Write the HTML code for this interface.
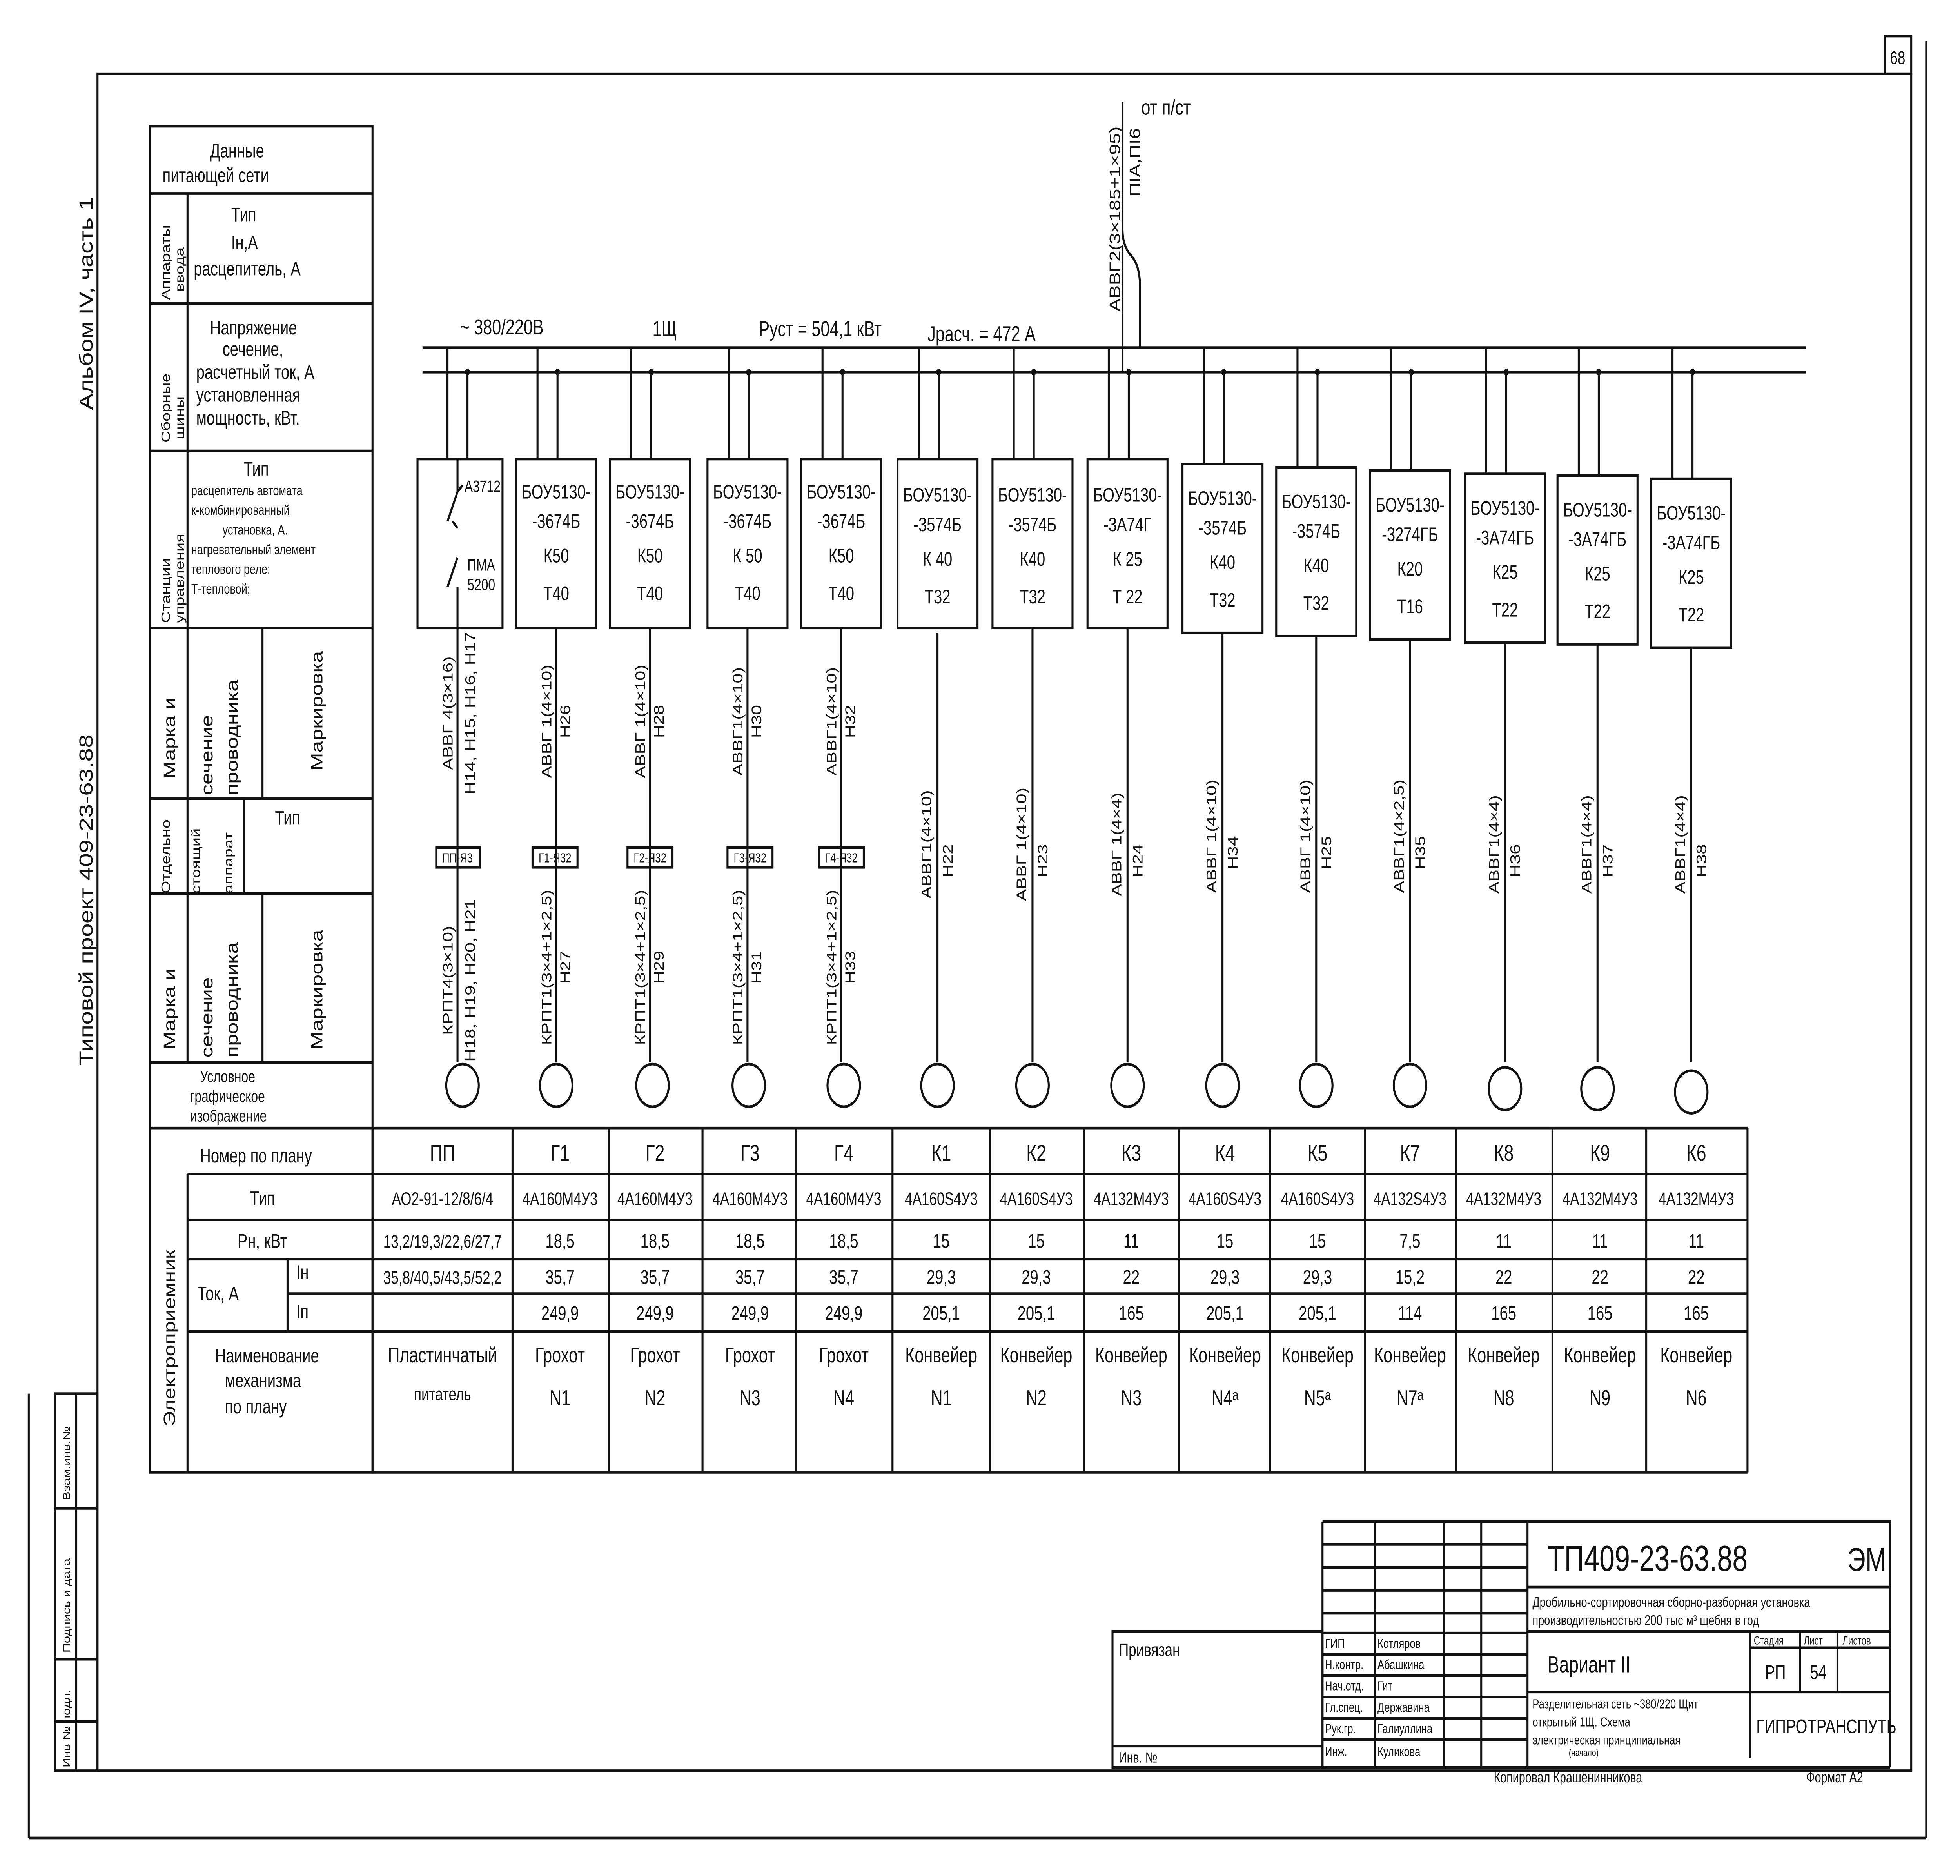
<!DOCTYPE html>
<html><head><meta charset="utf-8"><style>
html,body{margin:0;padding:0;background:#fff;overflow:hidden;width:100vw;height:100vh}
svg{display:block;width:100vw;height:100vh}
text{font-family:"Liberation Sans","DejaVu Sans",sans-serif;fill:#111}
</style></head><body>
<svg viewBox="0 0 1568 1144.2" preserveAspectRatio="none" xmlns="http://www.w3.org/2000/svg">
<rect width="1568" height="1144.2" fill="#fff"/>
<g stroke="#111" stroke-width="1.6" fill="none">
<rect x="78" y="45" width="1451" height="1035"/>
<rect x="1508" y="22" width="21" height="23"/>
<line x1="1541" y1="25" x2="1541" y2="1121"/>
<line x1="23" y1="850" x2="23" y2="1121"/>
<line x1="23" y1="1121" x2="1541" y2="1121"/>
<rect x="44" y="850" width="34" height="230"/>
<line x1="61" y1="850" x2="61" y2="1080"/>
<line x1="44" y1="920" x2="78" y2="920"/>
<line x1="44" y1="1012" x2="78" y2="1012"/>
<line x1="44" y1="1050" x2="78" y2="1050"/>
<rect x="120" y="77" width="178" height="821"/>
<line x1="150" y1="118" x2="150" y2="648"/>
<line x1="150" y1="716" x2="150" y2="898"/>
<line x1="120" y1="118" x2="298" y2="118"/>
<line x1="120" y1="185" x2="298" y2="185"/>
<line x1="120" y1="275" x2="298" y2="275"/>
<line x1="120" y1="383" x2="298" y2="383"/>
<line x1="120" y1="487" x2="298" y2="487"/>
<line x1="120" y1="545" x2="298" y2="545"/>
<line x1="120" y1="648" x2="298" y2="648"/>
<line x1="210" y1="383" x2="210" y2="487"/>
<line x1="210" y1="545" x2="210" y2="648"/>
<line x1="195" y1="487" x2="195" y2="545"/>
<line x1="120" y1="688" x2="1398" y2="688"/>
<line x1="150" y1="716" x2="1398" y2="716"/>
<line x1="150" y1="744" x2="1398" y2="744"/>
<line x1="150" y1="768" x2="1398" y2="768"/>
<line x1="230" y1="789" x2="1398" y2="789"/>
<line x1="150" y1="812" x2="1398" y2="812"/>
<line x1="298" y1="898" x2="1398" y2="898"/>
<line x1="230" y1="768" x2="230" y2="812"/>
<path d="M298 688V898M410 688V898M487 688V898M562 688V898M637 688V898M714 688V898M792 688V898M867 688V898M943 688V898M1016 688V898M1092 688V898M1165 688V898M1242 688V898M1317 688V898M1398 688V898"/>
<line x1="338" y1="212" x2="1445" y2="212"/>
<line x1="338" y1="227" x2="1445" y2="227"/>
<path d="M898 62V140Q898 150 905 156Q912 162 912 175V212"/>
<path d="M898 150V227"/>
<path d="M358 212V280M374 227V280M430 212V280M446 227V280M505 212V280M521 227V280M583 212V280M599 227V280M658 212V280M674 227V280M735 212V280M751 227V280M811 212V280M827 227V280M887 212V280M903 227V280M963 212V283M979 227V283M1038 212V285M1054 227V285M1113 212V287M1129 227V287M1189 212V289M1205 227V289M1263 212V290M1279 227V290M1338 212V292M1354 227V292"/>
<rect x="334" y="280" width="68" height="103"/>
<rect x="413" y="280" width="64" height="103"/>
<rect x="488" y="280" width="64" height="103"/>
<rect x="566" y="280" width="64" height="103"/>
<rect x="641" y="280" width="64" height="103"/>
<rect x="718" y="280" width="64" height="103"/>
<rect x="794" y="280" width="64" height="103"/>
<rect x="870" y="280" width="64" height="103"/>
<rect x="946" y="283" width="64" height="103"/>
<rect x="1021" y="285" width="64" height="103"/>
<rect x="1096" y="287" width="64" height="103"/>
<rect x="1172" y="289" width="64" height="103"/>
<rect x="1246" y="290" width="64" height="103"/>
<rect x="1321" y="292" width="64" height="103"/>
<path d="M366 280V300M366 300L358 318M366 300L370 296M366 340L358 358M366 358V383M362 318l4 4"/>
<path d="M366 383V648M445 383V648M520 383V648M598 383V648M673 383V648M750 386V648M826 383V648M902 383V648M978 386V648M1053 388V648M1128 390V648M1204 392V648M1278 393V648M1353 395V648"/>
<rect x="349" y="517" width="35" height="12"/>
<rect x="426" y="517" width="36" height="12"/>
<rect x="502" y="517" width="36" height="12"/>
<rect x="582" y="517" width="36" height="12"/>
<rect x="655" y="517" width="36" height="12"/>
<circle cx="370" cy="662" r="13"/><circle cx="445" cy="662" r="13"/><circle cx="522" cy="662" r="13"/><circle cx="599" cy="662" r="13"/><circle cx="675" cy="662" r="13"/><circle cx="750" cy="662" r="13"/><circle cx="826" cy="662" r="13"/><circle cx="902" cy="662" r="13"/><circle cx="978" cy="662" r="13"/><circle cx="1053" cy="662" r="13"/><circle cx="1128" cy="662" r="13"/><circle cx="1204" cy="664" r="13"/><circle cx="1278" cy="664" r="13"/><circle cx="1353" cy="666" r="13"/>
<path d="M1058 928H1512V1078M1058 928V1078H1512M1222 928V1078M1222 968H1512M1222 995H1512M1222 1032H1512M1400 995V1072M1440 995V1032M1470 995V1032M1400 1005H1512"/>
<path d="M1058 942H1222M1058 956H1222M1058 970H1222M1058 984H1222M1058 996H1222M1058 1009H1222M1058 1022H1222M1058 1035H1222M1058 1048H1222M1058 1061H1222M1100 928V1078M1155 928V1078M1185 928V1078"/>
<rect x="890" y="995" width="168" height="83"/>
<line x1="890" y1="1065" x2="1058" y2="1065"/>
</g>
<g fill="#111">
<circle cx="374" cy="227" r="2"/><circle cx="446" cy="227" r="2"/><circle cx="521" cy="227" r="2"/><circle cx="599" cy="227" r="2"/><circle cx="674" cy="227" r="2"/><circle cx="751" cy="227" r="2"/><circle cx="827" cy="227" r="2"/><circle cx="903" cy="227" r="2"/><circle cx="979" cy="227" r="2"/><circle cx="1054" cy="227" r="2"/><circle cx="1129" cy="227" r="2"/><circle cx="1205" cy="227" r="2"/><circle cx="1279" cy="227" r="2"/><circle cx="1354" cy="227" r="2"/>
</g>

<text x="1512" y="39" font-size="11">68</text>
<text transform="translate(74,250) rotate(-90)" font-size="15">Альбом IV, часть 1</text>
<text transform="translate(74,650) rotate(-90)" font-size="15">Типовой  проект 409-23-63.88</text>
<g font-size="8">
<text transform="translate(56,915) rotate(-90)">Взам.инв.№</text>
<text transform="translate(56,1008) rotate(-90)">Подпись и дата</text>
<text transform="translate(56,1078) rotate(-90)">Инв № подл.</text>
</g>

<g font-size="12">
<text x="168" y="96">Данные</text>
<text x="130" y="111">питающей  сети</text>
<text x="185" y="135">Тип</text>
<text x="185" y="152">Iн,А</text>
<text x="155" y="168">расцепитель, А</text>
<text x="168" y="204">Напряжение</text>
<text x="178" y="217">сечение,</text>
<text x="157" y="231">расчетный ток, А</text>
<text x="157" y="245">установленная</text>
<text x="157" y="259">мощность, кВт.</text>
<text x="195" y="290">Тип</text>
<text x="220" y="503">Тип</text>
<text x="160" y="660" font-size="10">Условное</text>
<text x="152" y="672" font-size="10">графическое</text>
<text x="152" y="684" font-size="10">изображение</text>
<text x="160" y="709">Номер по плану</text>
<text x="200" y="735">Тип</text>
<text x="190" y="761">Рн, кВт</text>
<text x="158" y="793">Ток, А</text>
<text x="237" y="780">Iн</text>
<text x="237" y="804">Iп</text>
<text x="172" y="831">Наименование</text>
<text x="180" y="846">механизма</text>
<text x="180" y="862">по плану</text>
</g>
<g font-size="8.5">
<text x="153" y="302">расцепитель автомата</text>
<text x="153" y="314">к-комбинированный</text>
<text x="178" y="326">установка, А.</text>
<text x="153" y="338">нагревательный элемент</text>
<text x="153" y="350">теплового реле:</text>
<text x="153" y="362">Т-тепловой;</text>
</g>
<g font-size="10">
<text transform="translate(136,183) rotate(-90)">Аппараты</text>
<text transform="translate(147,178) rotate(-90)">ввода</text>
<text transform="translate(136,270) rotate(-90)">Сборные</text>
<text transform="translate(147,268) rotate(-90)">шины</text>
<text transform="translate(136,380) rotate(-90)">Станции</text>
<text transform="translate(147,380) rotate(-90)">управления</text>
<text transform="translate(140,475) rotate(-90)" font-size="13">Марка  и</text>
<text transform="translate(170,485) rotate(-90)" font-size="13">сечение</text>
<text transform="translate(190,485) rotate(-90)" font-size="13">проводника</text>
<text transform="translate(258,470) rotate(-90)" font-size="13">Маркировка</text>
<text transform="translate(136,545) rotate(-90)">Отдельно</text>
<text transform="translate(160,545) rotate(-90)">стоящий</text>
<text transform="translate(186,545) rotate(-90)">аппарат</text>
<text transform="translate(140,640) rotate(-90)" font-size="13">Марка  и</text>
<text transform="translate(170,645) rotate(-90)" font-size="13">сечение</text>
<text transform="translate(190,645) rotate(-90)" font-size="13">проводника</text>
<text transform="translate(258,640) rotate(-90)" font-size="13">Маркировка</text>
<text transform="translate(140,870) rotate(-90)" font-size="13">Электроприемник</text>
</g>

<g font-size="13">
<text x="368" y="204">~ 380/220В</text>
<text x="522" y="205">1Щ</text>
<text x="607" y="205">Руст = 504,1 кВт</text>
<text x="742" y="208">Jрасч. = 472 А</text>
<text x="913" y="70">от п/ст</text>
<text transform="translate(896,190) rotate(-90)" font-size="12">АВВГ2(3×185+1×95)</text>
<text transform="translate(912,120) rotate(-90)" font-size="12">ПIА,ПI6</text>
</g>

<g font-size="12" text-anchor="middle">
<text x="386" y="300" font-size="10">А3712</text>
<text x="385" y="348" font-size="10">ПМА</text>
<text x="385" y="360" font-size="10">5200</text>
<text x="445" y="304">БОУ5130-</text><text x="445" y="322">-3674Б</text><text x="445" y="343">К50</text><text x="445" y="366">Т40</text>
<text x="520" y="304">БОУ5130-</text><text x="520" y="322">-3674Б</text><text x="520" y="343">К50</text><text x="520" y="366">Т40</text>
<text x="598" y="304">БОУ5130-</text><text x="598" y="322">-3674Б</text><text x="598" y="343">К 50</text><text x="598" y="366">Т40</text>
<text x="673" y="304">БОУ5130-</text><text x="673" y="322">-3674Б</text><text x="673" y="343">К50</text><text x="673" y="366">Т40</text>
<text x="750" y="306">БОУ5130-</text><text x="750" y="324">-3574Б</text><text x="750" y="345">К 40</text><text x="750" y="368">Т32</text>
<text x="826" y="306">БОУ5130-</text><text x="826" y="324">-3574Б</text><text x="826" y="345">К40</text><text x="826" y="368">Т32</text>
<text x="902" y="306">БОУ5130-</text><text x="902" y="324">-3А74Г</text><text x="902" y="345">К 25</text><text x="902" y="368">Т 22</text>
<text x="978" y="308">БОУ5130-</text><text x="978" y="326">-3574Б</text><text x="978" y="347">К40</text><text x="978" y="370">Т32</text>
<text x="1053" y="310">БОУ5130-</text><text x="1053" y="328">-3574Б</text><text x="1053" y="349">К40</text><text x="1053" y="372">Т32</text>
<text x="1128" y="312">БОУ5130-</text><text x="1128" y="330">-3274ГБ</text><text x="1128" y="351">К20</text><text x="1128" y="374">Т16</text>
<text x="1204" y="314">БОУ5130-</text><text x="1204" y="332">-3А74ГБ</text><text x="1204" y="353">К25</text><text x="1204" y="376">Т22</text>
<text x="1278" y="315">БОУ5130-</text><text x="1278" y="333">-3А74ГБ</text><text x="1278" y="354">К25</text><text x="1278" y="377">Т22</text>
<text x="1353" y="317">БОУ5130-</text><text x="1353" y="335">-3А74ГБ</text><text x="1353" y="356">К25</text><text x="1353" y="379">Т22</text>
</g>
<g font-size="8" text-anchor="middle">
<text x="366" y="526">ПП-Я3</text><text x="444" y="526">Г1-Я32</text><text x="520" y="526">Г2-Я32</text><text x="600" y="526">Г3-Я32</text><text x="673" y="526">Г4-Я32</text>
</g>

<g font-size="11" text-anchor="middle">
<text transform="translate(362,435) rotate(-90)">АВВГ 4(3×16)</text>
<text transform="translate(380,435) rotate(-90)">Н14, Н15, Н16, Н17</text>
<text transform="translate(362,598) rotate(-90)">КРПТ4(3×10)</text>
<text transform="translate(380,598) rotate(-90)">Н18, Н19, Н20, Н21</text>
<text transform="translate(441,440) rotate(-90)">АВВГ 1(4×10)</text><text transform="translate(456,440) rotate(-90)">Н26</text>
<text transform="translate(441,590) rotate(-90)">КРПТ1(3×4+1×2,5)</text><text transform="translate(456,590) rotate(-90)">Н27</text>
<text transform="translate(516,440) rotate(-90)">АВВГ 1(4×10)</text><text transform="translate(531,440) rotate(-90)">Н28</text>
<text transform="translate(516,590) rotate(-90)">КРПТ1(3×4+1×2,5)</text><text transform="translate(531,590) rotate(-90)">Н29</text>
<text transform="translate(594,440) rotate(-90)">АВВГ1(4×10)</text><text transform="translate(609,440) rotate(-90)">Н30</text>
<text transform="translate(594,590) rotate(-90)">КРПТ1(3×4+1×2,5)</text><text transform="translate(609,590) rotate(-90)">Н31</text>
<text transform="translate(669,440) rotate(-90)">АВВГ1(4×10)</text><text transform="translate(684,440) rotate(-90)">Н32</text>
<text transform="translate(669,590) rotate(-90)">КРПТ1(3×4+1×2,5)</text><text transform="translate(684,590) rotate(-90)">Н33</text>
<text transform="translate(745,515) rotate(-90)">АВВГ1(4×10)</text><text transform="translate(762,525) rotate(-90)">Н22</text>
<text transform="translate(821,515) rotate(-90)">АВВГ 1(4×10)</text><text transform="translate(838,525) rotate(-90)">Н23</text>
<text transform="translate(897,515) rotate(-90)">АВВГ 1(4×4)</text><text transform="translate(914,525) rotate(-90)">Н24</text>
<text transform="translate(973,510) rotate(-90)">АВВГ 1(4×10)</text><text transform="translate(990,520) rotate(-90)">Н34</text>
<text transform="translate(1048,510) rotate(-90)">АВВГ 1(4×10)</text><text transform="translate(1065,520) rotate(-90)">Н25</text>
<text transform="translate(1123,510) rotate(-90)">АВВГ1(4×2,5)</text><text transform="translate(1140,520) rotate(-90)">Н35</text>
<text transform="translate(1199,515) rotate(-90)">АВВГ1(4×4)</text><text transform="translate(1216,525) rotate(-90)">Н36</text>
<text transform="translate(1273,515) rotate(-90)">АВВГ1(4×4)</text><text transform="translate(1290,525) rotate(-90)">Н37</text>
<text transform="translate(1348,515) rotate(-90)">АВВГ1(4×4)</text><text transform="translate(1365,525) rotate(-90)">Н38</text>
</g>

<g font-size="14" text-anchor="middle">
<text x="354" y="708">ПП</text><text x="448" y="708">Г1</text><text x="524" y="708">Г2</text><text x="600" y="708">Г3</text><text x="675" y="708">Г4</text><text x="753" y="708">К1</text><text x="829" y="708">К2</text><text x="905" y="708">К3</text><text x="980" y="708">К4</text><text x="1054" y="708">К5</text><text x="1128" y="708">К7</text><text x="1203" y="708">К8</text><text x="1280" y="708">К9</text><text x="1357" y="708">К6</text>
</g>
<g font-size="11" text-anchor="middle">
<text x="354" y="735">АО2-91-12/8/6/4</text><text x="448" y="735">4А160М4У3</text><text x="524" y="735">4А160М4У3</text><text x="600" y="735">4А160М4У3</text><text x="675" y="735">4А160М4У3</text><text x="753" y="735">4А160S4У3</text><text x="829" y="735">4А160S4У3</text><text x="905" y="735">4А132М4У3</text><text x="980" y="735">4А160S4У3</text><text x="1054" y="735">4А160S4У3</text><text x="1128" y="735">4А132S4У3</text><text x="1203" y="735">4А132М4У3</text><text x="1280" y="735">4А132М4У3</text><text x="1357" y="735">4А132М4У3</text>
<text x="354" y="761">13,2/19,3/22,6/27,7</text>
<text x="354" y="783">35,8/40,5/43,5/52,2</text>
</g>
<g font-size="12" text-anchor="middle">
<text x="448" y="761">18,5</text><text x="524" y="761">18,5</text><text x="600" y="761">18,5</text><text x="675" y="761">18,5</text><text x="753" y="761">15</text><text x="829" y="761">15</text><text x="905" y="761">11</text><text x="980" y="761">15</text><text x="1054" y="761">15</text><text x="1128" y="761">7,5</text><text x="1203" y="761">11</text><text x="1280" y="761">11</text><text x="1357" y="761">11</text>
<text x="448" y="783">35,7</text><text x="524" y="783">35,7</text><text x="600" y="783">35,7</text><text x="675" y="783">35,7</text><text x="753" y="783">29,3</text><text x="829" y="783">29,3</text><text x="905" y="783">22</text><text x="980" y="783">29,3</text><text x="1054" y="783">29,3</text><text x="1128" y="783">15,2</text><text x="1203" y="783">22</text><text x="1280" y="783">22</text><text x="1357" y="783">22</text>
<text x="448" y="805">249,9</text><text x="524" y="805">249,9</text><text x="600" y="805">249,9</text><text x="675" y="805">249,9</text><text x="753" y="805">205,1</text><text x="829" y="805">205,1</text><text x="905" y="805">165</text><text x="980" y="805">205,1</text><text x="1054" y="805">205,1</text><text x="1128" y="805">114</text><text x="1203" y="805">165</text><text x="1280" y="805">165</text><text x="1357" y="805">165</text>
</g>
<g font-size="13" text-anchor="middle">
<text x="354" y="831">Пластинчатый</text><text x="448" y="831">Грохот</text><text x="524" y="831">Грохот</text><text x="600" y="831">Грохот</text><text x="675" y="831">Грохот</text><text x="753" y="831">Конвейер</text><text x="829" y="831">Конвейер</text><text x="905" y="831">Конвейер</text><text x="980" y="831">Конвейер</text><text x="1054" y="831">Конвейер</text><text x="1128" y="831">Конвейер</text><text x="1203" y="831">Конвейер</text><text x="1280" y="831">Конвейер</text><text x="1357" y="831">Конвейер</text>
<text x="354" y="854" font-size="11">питатель</text><text x="448" y="857">N1</text><text x="524" y="857">N2</text><text x="600" y="857">N3</text><text x="675" y="857">N4</text><text x="753" y="857">N1</text><text x="829" y="857">N2</text><text x="905" y="857">N3</text><text x="980" y="857">N4ᵃ</text><text x="1054" y="857">N5ᵃ</text><text x="1128" y="857">N7ᵃ</text><text x="1203" y="857">N8</text><text x="1280" y="857">N9</text><text x="1357" y="857">N6</text>
</g>

<text x="1238" y="958" font-size="22">ТП409-23-63.88</text>
<text x="1478" y="958" font-size="20">ЭМ</text>
<text x="1226" y="980" font-size="8.5">Дробильно-сортировочная сборно-разборная установка</text>
<text x="1226" y="991" font-size="8.5">производительностью 200 тыс м³ щебня в год</text>
<text x="1238" y="1020" font-size="14">Вариант II</text>
<text x="1403" y="1003" font-size="7">Стадия</text><text x="1443" y="1003" font-size="7">Лист</text><text x="1474" y="1003" font-size="7">Листов</text>
<text x="1412" y="1024" font-size="12">РП</text><text x="1448" y="1024" font-size="12">54</text>
<text x="1226" y="1042" font-size="8">Разделительная сеть ~380/220 Щит</text>
<text x="1226" y="1053" font-size="8">открытый 1Щ.    Схема</text>
<text x="1226" y="1064" font-size="8">электрическая принципиальная</text>
<text x="1255" y="1071" font-size="6">(начало)</text>
<text x="1405" y="1057" font-size="12">ГИПРОТРАНСПУТЬ</text>
<g font-size="8">
<text x="1060" y="1005">ГИП</text><text x="1102" y="1005">Котляров</text>
<text x="1060" y="1018">Н.контр.</text><text x="1102" y="1018">Абашкина</text>
<text x="1060" y="1031">Нач.отд.</text><text x="1102" y="1031">Гит</text>
<text x="1060" y="1044">Гл.спец.</text><text x="1102" y="1044">Державина</text>
<text x="1060" y="1057">Рук.гр.</text><text x="1102" y="1057">Галиуллина</text>
<text x="1060" y="1071">Инж.</text><text x="1102" y="1071">Куликова</text>
</g>
<text x="895" y="1010" font-size="11">Привязан</text>
<text x="895" y="1075" font-size="9">Инв. №</text>
<text x="1195" y="1087" font-size="9">Копировал  Крашенинникова</text>
<text x="1445" y="1087" font-size="9">Формат А2</text>
</svg>
</body></html>
